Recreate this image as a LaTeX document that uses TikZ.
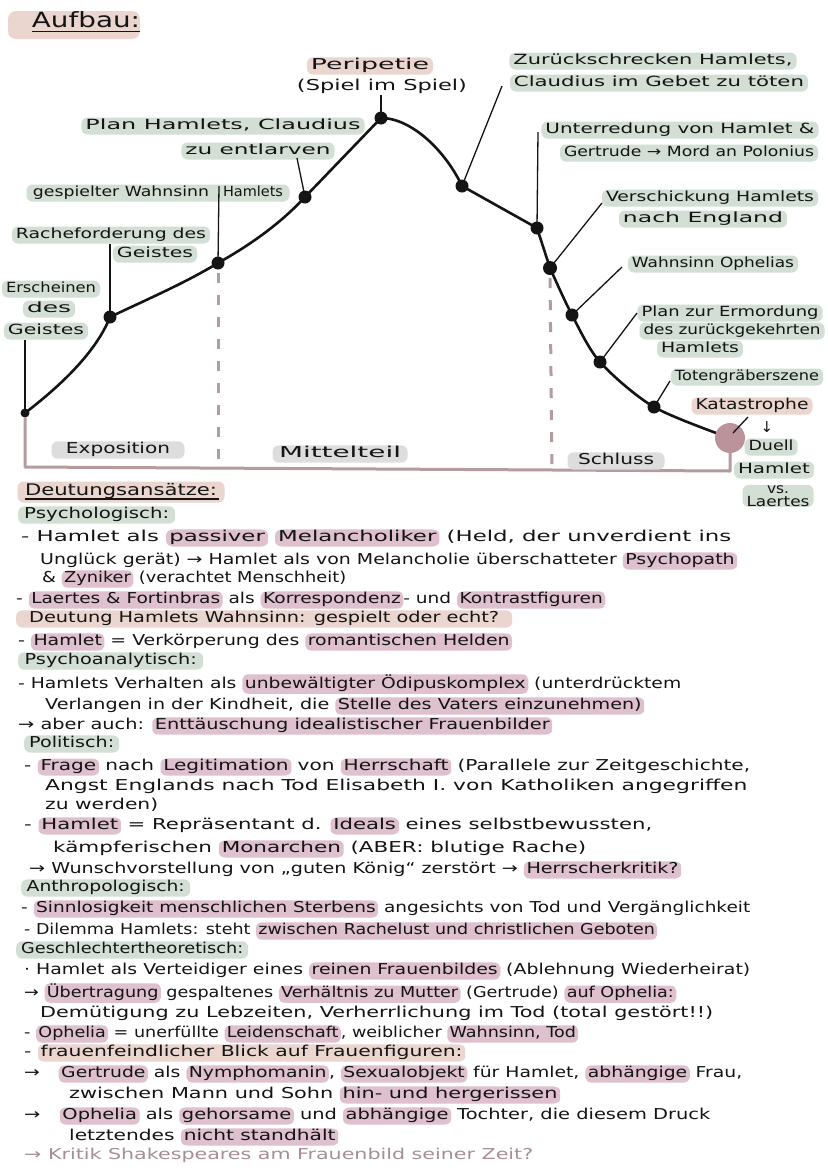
\documentclass[tikz,border=0pt]{standalone}
\usepackage{fontspec}
\setmainfont{DejaVu Sans}
\usepackage{graphicx}
\definecolor{sage}{HTML}{D3DED5}
\definecolor{rosa}{HTML}{DFC0CE}
\definecolor{beige}{HTML}{EBD6CF}
\definecolor{greyhl}{HTML}{DDDDDD}
\definecolor{axisc}{HTML}{B59A9E}
\definecolor{katc}{HTML}{BA949A}
\definecolor{fadec}{HTML}{A68E96}
\definecolor{ink}{HTML}{141414}
\newcommand\hand{\fontsize{15}{16}\selectfont}
\newcommand\labfont{\fontsize{14}{16}\selectfont}
\newcommand\fit[2]{\resizebox{#1pt}{\height}{#2}}
\tikzset{
 inlinehl/.style={rounded corners=5pt,inner xsep=2pt,inner ysep=0.5pt,outer sep=0pt},
 lab/.style={fill=sage,rounded corners=6pt,inner xsep=4pt,inner ysep=0.5pt,font=\labfont,text=ink},
 txt/.style={anchor=west,inner sep=0pt,font=\hand,text=ink},
 head/.style={lab,anchor=west,font=\hand},
 dot/.style={circle,fill=ink,inner sep=0pt,minimum size=13pt},
 curveline/.style={line width=2.6pt,draw=ink,line cap=round,line join=round},
 leader/.style={line width=1.3pt,draw=ink},
 axisline/.style={line width=3pt,draw=axisc,line join=round},
 dashaxis/.style={line width=3pt,draw=axisc,dash pattern=on 10pt off 12pt},
 ul/.style={line width=1.8pt,draw=ink},
}
\newcommand\mkhl[2]{\tikz[baseline=(hlt.base)]\node[inlinehl,fill=#1](hlt){\strut #2};}
\newcommand\HP[1]{\mkhl{rosa}{#1}}
\newcommand\HB[1]{\mkhl{beige}{#1}}
\begin{document}
\begin{tikzpicture}[x=1pt,y=-1pt]
\fill[white] (0,0) rectangle (828,1171);
\useasboundingbox (0,0) rectangle (828,1171);

% ---------- title
\node[fill=beige,rounded corners=8pt,minimum width=132pt,minimum height=28pt,inner sep=0pt] (au) at (74,25) {};
\node[inner sep=0pt,text=ink] (aut) at (86,23) {\fit{108}{\fontsize{21}{22}\selectfont\strut Aufbau:}};
\draw[ul] ([yshift=3pt]aut.south west) -- ([yshift=3pt]aut.south east);

% ---------- curve points
\coordinate (p1) at (25,413);
\coordinate (p2) at (110,317);
\coordinate (p3) at (218,263);
\coordinate (p4) at (305,197);
\coordinate (p5) at (381,118);
\coordinate (p6) at (462,186);
\coordinate (p7) at (537,228);
\coordinate (p8) at (550,268);
\coordinate (p9) at (572,315);
\coordinate (p10) at (600,362);
\coordinate (p11) at (654,407);
\coordinate (p12) at (730,438);

\draw[curveline] (p1) .. controls (55,390) and (95,355) .. (p2)
  .. controls (150,298) and (185,283) .. (p3)
  .. controls (250,245) and (280,224) .. (p4) -- (p5)
  .. controls (411,118) and (445,150) .. (p6) -- (p7) -- (p8);
\draw[curveline] plot[smooth,tension=0.5] coordinates {(p8) (p9) (p10) (p11) (p12)};

\node[dot,minimum size=9pt] (d1) at (p1) {};
\node[dot] (d2) at (p2) {};
\node[dot] (d3) at (p3) {};
\node[dot] (d4) at (p4) {};
\node[dot] (d5) at (p5) {};
\node[dot] (d6) at (p6) {};
\node[dot] (d7) at (p7) {};
\node[dot,minimum size=14pt] (d8) at (p8) {};
\node[dot] (d9) at (p9) {};
\node[dot] (d10) at (p10) {};
\node[dot] (d11) at (p11) {};
\node[circle,fill=katc,inner sep=0pt,minimum size=30pt] (kat) at (p12) {};

% ---------- axis
\coordinate (ax1) at (25,467);
\coordinate (ax2) at (730,471);
\coordinate (m1) at (218,467);
\coordinate (m2) at (552,469);
\draw[axisline] (d1.south) -- (ax1) -- (ax2) -- (kat.south);
\draw[dashaxis] ([yshift=-3pt]d3.south) -- (m1);
\draw[dashaxis] ([yshift=-3pt]d8.south) -- (m2);

% ---------- section labels
\node[lab,fill=greyhl,minimum width=133pt,font=\hand] (ex) at (118,450) {\fit{104}{\strut Exposition}};
\node[lab,fill=greyhl,minimum width=135pt,font=\hand] (mi) at (340,454) {\fit{122}{\strut Mittelteil}};
\node[lab,fill=greyhl,minimum width=97pt,font=\hand] (sc) at (616,461) {\fit{76}{\strut Schluss}};

% ---------- chart labels
\node[lab,fill=beige,font=\hand] (per1) at (370,66) {\fit{118}{\strut Peripetie}};
\node[inner sep=0pt,font=\hand,text=ink] (per2) at (382,87) {\fit{170}{\strut (Spiel im Spiel)}};
\node[lab] (zu1) at (653,61) {\fit{279}{\strut Zurückschrecken Hamlets,}};
\node[lab] (zu2) at (659,83) {\fit{290}{\strut Claudius im Gebet zu töten}};
\node[lab] (ph1) at (223,126) {\fit{275}{\strut Plan Hamlets, Claudius}};
\node[lab] (ph2) at (258,151) {\fit{145}{\strut zu entlarven}};
\node[lab,minimum width=263pt] (gw) at (158,193) {\fit{176}{\strut gespielter Wahnsinn}\hspace{14pt}\fit{60}{\strut Hamlets}};
\node[lab] (rf1) at (111,235) {\fit{190}{\strut Racheforderung des}};
\node[lab] (rf2) at (155,254) {\fit{76}{\strut Geistes}};
\node[lab] (er1) at (51,289) {\fit{90}{\strut Erscheinen}};
\node[lab] (er2) at (49,309) {\fit{44}{\strut des}};
\node[lab] (er3) at (46,331) {\fit{76}{\strut Geistes}};
\node[lab] (un1) at (680,130) {\fit{269}{\strut Unterredung von Hamlet \&}};
\node[lab] (un2) at (689,153) {\fit{250}{\strut Gertrude → Mord an Polonius}};
\node[lab] (ve1) at (710,198) {\fit{208}{\strut Verschickung Hamlets}};
\node[lab] (ve2) at (703,219) {\fit{160}{\strut nach England}};
\node[lab] (wo) at (713,264) {\fit{162}{\strut Wahnsinn Ophelias}};
\node[lab] (pz1) at (730,313) {\fit{177}{\strut Plan zur Ermordung}};
\node[lab] (pz2) at (732,331) {\fit{177}{\strut des zurückgekehrten}};
\node[lab] (pz3) at (700,349) {\fit{78}{\strut Hamlets}};
\node[lab] (tg) at (747,377) {\fit{144}{\strut Totengräberszene}};
\node[lab,fill=beige,font=\hand] (ka) at (752,406) {\fit{113}{\strut Katastrophe}};
\node[inner sep=0pt,text=ink,font=\hand] (arr) at (767,427) {↓};
\node[lab] (du1) at (771,447) {\fit{45}{\strut Duell}};
\node[lab] (du2) at (774,470) {\fit{72}{\strut Hamlet}};
\node[lab,align=center,font=\fontsize{14}{12}\selectfont] (du3) at (778,496) {\fit{22}{vs.}\\[1pt]\fit{63}{Laertes}};

% ---------- leader lines
\coordinate (l3) at (219,186);
\coordinate (l4) at (297,158);
\coordinate (l6) at (502,86);
\coordinate (l7) at (538,132);
\coordinate (l8) at (602,203);
\coordinate (l9) at (622,267);
\coordinate (l10) at (637,313);
\coordinate (l11) at (670,381);
\coordinate (l12) at (748,417);
\draw[leader] (d1.center) -- (d1.center |- er3.south);
\draw[leader] (d2.center) -- (d2.center |- rf1.south);
\draw[leader] (d3.center) -- (l3);
\draw[leader] (d4.center) -- (l4);
\draw[leader] (d5.center) -- (d5.center |- per2.south);
\draw[leader] (d6.center) -- (l6);
\draw[leader] (d7.center) -- (l7);
\draw[leader] (d8.center) -- (l8);
\draw[leader] (d9.center) -- (l9);
\draw[leader] (d10.center) -- (l10);
\draw[leader] (d11.center) -- (l11);
\draw[leader] ([shift={(3pt,5pt)}]kat.center) -- (l12);

% ---------- Deutungsansaetze
\node[lab,fill=beige,minimum width=207pt,minimum height=21pt] (b01) at (121,492) {\fit{192}{\fontsize{16}{17}\selectfont\strut Deutungsansätze:}};
\draw[ul] ([shift={(8pt,4pt)}]b01.south west) -- ([shift={(-6pt,4pt)}]b01.south east);
\node[head,minimum width=157pt] (b02) at (18,515) {\fit{145}{\strut Psychologisch:}};
\node[txt] (b03) at (21,538) {\fit{710}{- Hamlet als \HP{passiver} \HP{Melancholiker} (Held, der unverdient ins}};
\node[txt] (b04) at (40,561) {\fit{697}{Unglück gerät) → Hamlet als von Melancholie überschatteter \HP{Psychopath}}};
\node[txt] (b05) at (42,579) {\fit{304}{\& \HP{Zyniker} (verachtet Menschheit)}};
\node[txt] (b06) at (16,600) {\fit{589}{- \HP{Laertes \& Fortinbras} als \HP{Korrespondenz}- und \HP{Kontrastfiguren}}};
\node[head,fill=beige,minimum width=496pt] (b07) at (16,619) {\fit{470}{\strut Deutung Hamlets Wahnsinn: gespielt oder echt?}};
\node[txt] (b08) at (18,642) {\fit{494}{- \HP{Hamlet} = Verkörperung des \HP{romantischen Helden}}};
\node[head,minimum width=185pt] (b09) at (18,661) {\fit{172}{\strut Psychoanalytisch:}};
\node[txt] (b10) at (18,684) {\fit{663}{- Hamlets Verhalten als \HP{unbewältigter Ödipuskomplex} (unterdrücktem}};
\node[txt] (b11) at (45,706) {\fit{599}{Verlangen in der Kindheit, die \HP{Stelle des Vaters einzunehmen)}}};
\node[txt] (b12) at (18,726) {\fit{534}{→ aber auch: \HP{Enttäuschung idealistischer Frauenbilder}}};
\node[head,minimum width=95pt] (b13) at (24,744) {\fit{85}{\strut Politisch:}};
\node[txt] (b14) at (24,767) {\fit{726}{- \HP{Frage} nach \HP{Legitimation} von \HP{Herrschaft} (Parallele zur Zeitgeschichte,}};
\node[txt] (b15) at (45,787) {\fit{702}{\strut Angst Englands nach Tod Elisabeth I. von Katholiken angegriffen}};
\node[txt] (b16) at (45,806) {\fit{113}{\strut zu werden)}};
\node[txt] (b17) at (24,826) {\fit{628}{- \HP{Hamlet} = Repräsentant d. \HP{Ideals} eines selbstbewussten,}};
\node[txt] (b18) at (53,849) {\fit{533}{kämpferischen \HP{Monarchen} (ABER: blutige Rache)}};
\node[txt] (b19) at (29,870) {\fit{652}{→ Wunschvorstellung von „guten König“ zerstört → \HP{Herrscherkritik?}}};
\node[head,minimum width=169pt] (b20) at (21,888) {\fit{158}{\strut Anthropologisch:}};
\node[txt] (b21) at (21,909) {\fit{729}{- \HP{Sinnlosigkeit menschlichen Sterbens} angesichts von Tod und Vergänglichkeit}};
\node[txt] (b22) at (24,931) {\fit{633}{- Dilemma Hamlets: steht \HP{zwischen Rachelust und christlichen Geboten}}};
\node[head,minimum width=232pt] (b23) at (16,950) {\fit{222}{\strut Geschlechtertheoretisch:}};
\node[txt] (b24) at (24,971) {\fit{726}{· Hamlet als Verteidiger eines \HP{reinen Frauenbildes} (Ablehnung Wiederheirat)}};
\node[txt] (b25) at (24,993) {\fit{652}{→ \HP{Übertragung} gespaltenes \HP{Verhältnis zu Mutter} (Gertrude) \HP{auf Ophelia:}}};
\node[txt] (b26) at (40,1014) {\fit{673}{\strut Demütigung zu Lebzeiten, Verherrlichung im Tod (total gestört!!)}};
\node[txt] (b27) at (24,1034) {\fit{554}{- \HP{Ophelia} = unerfüllte \HP{Leidenschaft}, weiblicher \HP{Wahnsinn, Tod}}};
\node[txt] (b28) at (24,1053) {\fit{441}{- \HB{frauenfeindlicher Blick auf Frauenfiguren:}}};
\node[txt] (b29) at (24,1074) {\fit{718}{→\quad \HP{Gertrude} als \HP{Nymphomanin}, \HP{Sexualobjekt} für Hamlet, \HP{abhängige} Frau,}};
\node[txt] (b30) at (69,1095) {\fit{491}{zwischen Mann und Sohn \HP{hin- und hergerissen}}};
\node[txt] (b31) at (24,1116) {\fit{686}{→\quad \HP{Ophelia} als \HP{gehorsame} und \HP{abhängige} Tochter, die diesem Druck}};
\node[txt] (b32) at (69,1137) {\fit{269}{letztendes \HP{nicht standhält}}};
\node[txt,text=fadec] (b33) at (24,1156) {\fit{509}{\strut → Kritik Shakespeares am Frauenbild seiner Zeit?}};
\end{tikzpicture}
\end{document}
